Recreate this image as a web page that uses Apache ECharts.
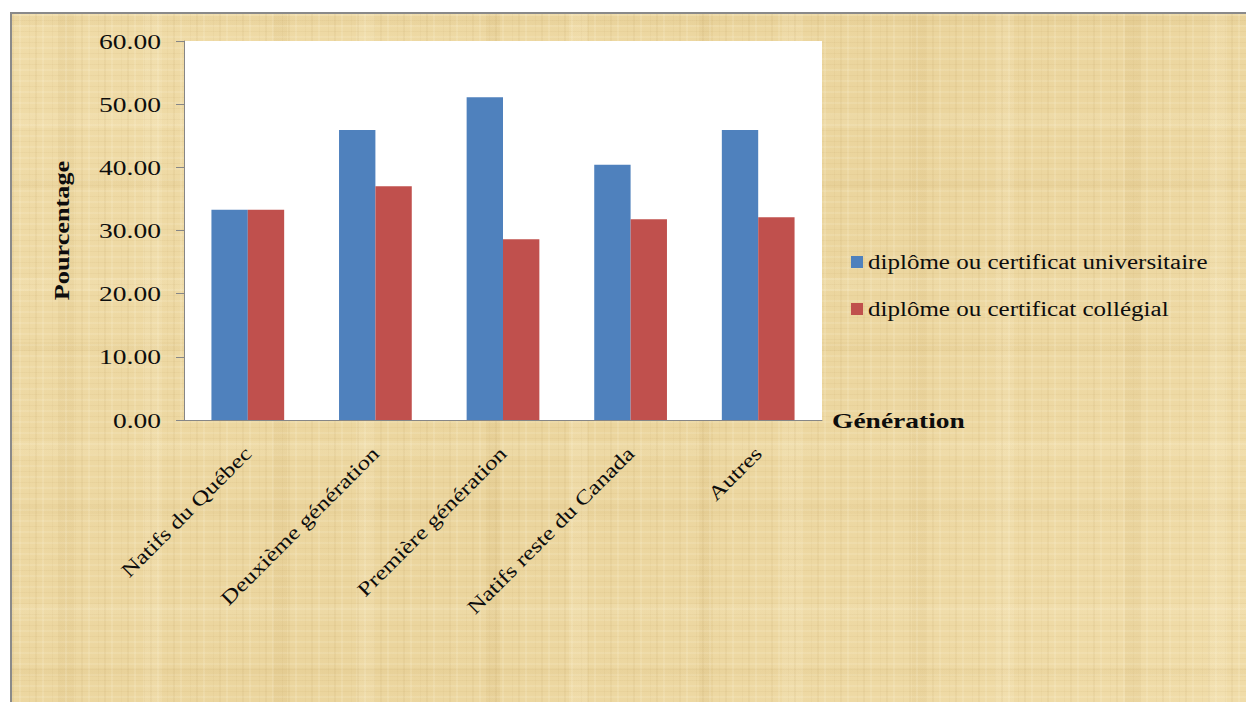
<!DOCTYPE html>
<html>
<head>
<meta charset="utf-8">
<script src="https://cdn.jsdelivr.net/npm/echarts@6/dist/echarts.min.js"></script>
<style>
  html, body { margin: 0; padding: 0; background: #fff; width: 1246px; height: 702px; overflow: hidden; }
  #paper {
    position: absolute; left: 10px; top: 12px; width: 1246px; height: 700px;
    border-left: 2px solid #8a8a8a; border-top: 2px solid #8a8a8a;
    background-color: #EDD8A2;
    background-image:
      repeating-linear-gradient(90deg, rgba(150,110,40,0.06) 0 2px, transparent 2px 7px, rgba(255,250,228,0.14) 7px 9px, transparent 9px 17px, rgba(150,110,40,0.04) 17px 18px, transparent 18px 23px),
      repeating-linear-gradient(0deg, rgba(150,110,40,0.05) 0 1px, transparent 1px 5px, rgba(255,252,235,0.12) 5px 7px, transparent 7px 11px),
      repeating-linear-gradient(90deg, transparent 0 48px, rgba(175,135,55,0.07) 48px 62px, transparent 62px 131px, rgba(255,245,215,0.14) 131px 150px, transparent 150px 213px),
      repeating-linear-gradient(0deg, transparent 0 37px, rgba(175,135,55,0.05) 37px 46px, transparent 46px 97px, rgba(255,245,215,0.12) 97px 110px, transparent 110px 163px),
      linear-gradient(135deg, rgba(255,240,200,0.15), rgba(200,160,80,0.06) 50%, rgba(255,240,200,0.18));
  }
  #chart { position: absolute; left: 0; top: 0; width: 1246px; height: 702px; }
</style>
</head>
<body>
<div id="paper"></div>
<div id="chart"></div>
<script>
// Niveau de diplôme selon la génération (%)
const categories = ['Natifs du Québec', 'Deuxième génération', 'Première génération', 'Natifs reste du Canada', 'Autres'];
const universitaire = [33.3, 45.9, 51.1, 40.4, 45.9];
const collegial = [33.3, 37.0, 28.6, 31.8, 32.1];
const seriesNames = ['diplôme ou certificat universitaire', 'diplôme ou certificat collégial'];

const serif = 'Liberation Serif, Times New Roman, serif';
const ink = '#0d0d0d';
const chart = echarts.init(document.getElementById('chart'), null, { renderer: 'svg' });

chart.setOption({
  backgroundColor: 'transparent',
  animation: false,
  grid: {
    left: 184, top: 41, right: 424, bottom: 282,
    show: true, backgroundColor: '#ffffff', borderWidth: 0
  },
  legend: {
    orient: 'vertical',
    left: 851, top: 252,
    padding: 0,
    itemWidth: 12, itemHeight: 12, itemGap: 27,
    icon: 'rect',
    textStyle: { fontFamily: serif, fontSize: 20, color: ink, lineHeight: 20 },
    data: seriesNames
  },
  xAxis: {
    type: 'category',
    data: categories,
    name: 'Génération',
    nameLocation: 'end',
    nameGap: 10,
    nameTextStyle: { fontFamily: serif, fontSize: 22, fontWeight: 'bold', color: ink, verticalAlign: 'middle', padding: [0, 0, 20, 0] },
    axisLine: { show: true, lineStyle: { color: '#868686', width: 1 } },
    axisTick: { show: false },
    axisLabel: { rotate: 45, margin: 30, fontFamily: serif, fontSize: 20, color: ink, interval: 0 }
  },
  yAxis: {
    type: 'value',
    min: 0, max: 60, interval: 10,
    name: 'Pourcentage',
    nameLocation: 'middle',
    nameGap: 112,
    nameRotate: 90,
    nameTextStyle: { fontFamily: serif, fontSize: 21, fontWeight: 'bold', color: ink },
    axisLine: { show: true, lineStyle: { color: '#868686', width: 1 } },
    axisTick: { show: true, inside: false, length: 8, lineStyle: { color: '#868686' } },
    splitLine: { show: false },
    axisLabel: { margin: 23, fontFamily: serif, fontSize: 22, color: ink, formatter: v => v.toFixed(2) }
  },
  series: [
    {
      name: seriesNames[0], type: 'bar', data: universitaire,
      itemStyle: { color: '#4F81BD' },
      barGap: '0%', barCategoryGap: '43%'
    },
    {
      name: seriesNames[1], type: 'bar', data: collegial,
      itemStyle: { color: '#C0504D' },
      barGap: '0%', barCategoryGap: '43%'
    }
  ]
});

// The lettering of this chart is set wide: stretch every glyph run along its own direction.
const WIDE = 1.25;
function widenText() {
  document.querySelectorAll('#chart svg text').forEach(t => {
    if (t.hasAttribute('textLength')) return;
    const len = t.getComputedTextLength();
    if (len > 0) {
      t.setAttribute('lengthAdjust', 'spacingAndGlyphs');
      t.setAttribute('textLength', (len * WIDE).toFixed(1));
    }
  });
}
widenText();
chart.on('finished', widenText);
requestAnimationFrame(widenText);
</script>
</body>
</html>
